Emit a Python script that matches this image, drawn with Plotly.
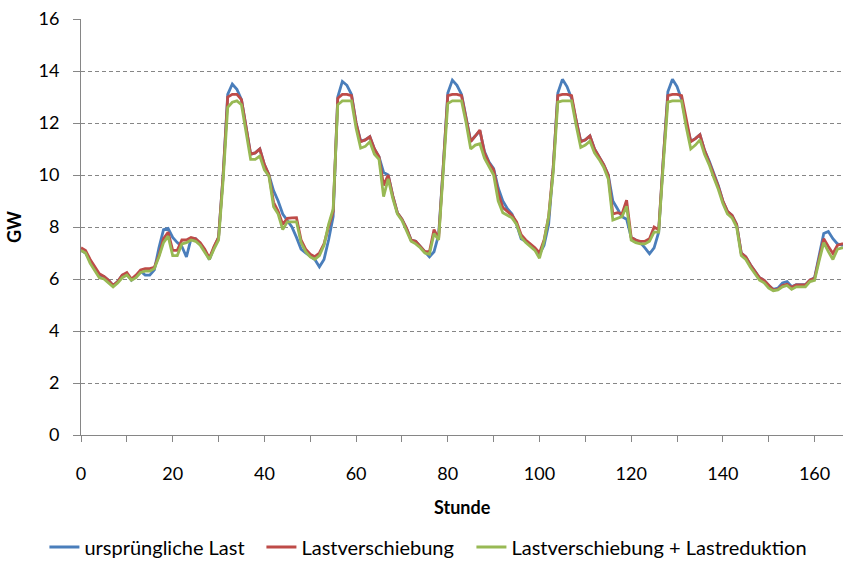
import plotly.graph_objects as go

hours = list(range(168))

urspruengliche_last = [
    7.1, 7.0, 6.7, 6.4, 6.15, 6.1, 5.95, 5.75, 5.9, 6.15, 6.2, 5.95, 6.1, 6.3, 6.15, 6.15, 6.35, 7.2, 7.9, 7.95,
    7.6, 7.4, 7.25, 6.85, 7.55, 7.55, 7.35, 7.1, 6.75, 7.2, 7.6, 10.0, 13.1, 13.5, 13.3, 12.9, 11.8, 10.8, 10.85, 11.0,
    10.4, 10.0, 9.4, 9.0, 8.5, 8.25, 8.0, 7.6, 7.15, 7.0, 6.88, 6.75, 6.47, 6.75, 7.5, 8.4, 13.0, 13.6, 13.45, 13.1,
    12.0, 11.3, 11.35, 11.47, 11.0, 10.7, 10.1, 10.0, 9.2, 8.55, 8.3, 7.95, 7.5, 7.45, 7.25, 7.05, 6.85, 7.05, 7.7, 10.3,
    13.15, 13.65, 13.45, 13.1, 12.2, 11.3, 11.5, 11.7, 10.9, 10.5, 10.25, 9.5, 9.0, 8.7, 8.5, 8.1, 7.55, 7.45, 7.3, 7.15,
    6.95, 7.3, 8.1, 10.3, 13.15, 13.68, 13.4, 12.95, 12.1, 11.3, 11.35, 11.5, 11.0, 10.7, 10.4, 10.0, 9.0, 8.7, 8.4, 8.3,
    7.6, 7.5, 7.4, 7.2, 6.97, 7.2, 7.8, 10.6, 13.2, 13.68, 13.4, 12.9, 12.0, 11.3, 11.4, 11.55, 10.95, 10.55, 10.05, 9.6,
    9.0, 8.6, 8.45, 8.1, 7.0, 6.85, 6.55, 6.3, 6.05, 5.95, 5.75, 5.6, 5.65, 5.85, 5.9, 5.7, 5.78, 5.78, 5.78, 5.96,
    6.05, 6.9, 7.75, 7.83, 7.55, 7.35, 7.3, 7.3,
]

lastverschiebung = [
    7.2, 7.1, 6.75, 6.45, 6.2, 6.1, 5.95, 5.75, 5.9, 6.15, 6.25, 6.0, 6.15, 6.35, 6.4, 6.4, 6.45, 6.9, 7.55, 7.8,
    7.1, 7.1, 7.5, 7.5, 7.6, 7.55, 7.4, 7.15, 6.8, 7.25, 7.6, 10.0, 13.0, 13.1, 13.1, 12.9, 11.8, 10.8, 10.85, 11.0,
    10.4, 10.0, 8.95, 8.6, 8.1, 8.33, 8.35, 8.36, 7.5, 7.15, 6.95, 6.86, 7.0, 7.35, 8.0, 8.6, 12.95, 13.1, 13.1, 13.05,
    12.0, 11.28, 11.35, 11.47, 11.0, 10.7, 9.6, 10.0, 9.2, 8.55, 8.3, 7.95, 7.5, 7.45, 7.25, 7.05, 7.05, 7.9, 7.55, 10.3,
    13.05, 13.1, 13.1, 13.05, 12.2, 11.28, 11.5, 11.73, 10.85, 10.45, 10.2, 9.3, 8.75, 8.6, 8.45, 8.2, 7.7, 7.5, 7.35, 7.2,
    7.0, 7.5, 8.4, 10.3, 13.05, 13.1, 13.1, 13.05, 12.1, 11.28, 11.35, 11.5, 11.0, 10.7, 10.4, 10.0, 8.5, 8.55, 8.5, 9.03,
    7.6, 7.5, 7.45, 7.45, 7.55, 8.0, 7.9, 10.6, 13.05, 13.1, 13.1, 13.05, 12.1, 11.28, 11.4, 11.55, 10.95, 10.5, 10.0, 9.56,
    9.0, 8.6, 8.45, 8.1, 7.0, 6.85, 6.55, 6.3, 6.05, 5.95, 5.75, 5.58, 5.6, 5.75, 5.8, 5.68, 5.77, 5.77, 5.77, 5.96,
    6.03, 6.8, 7.55, 7.25, 6.98, 7.3, 7.35, 7.35,
]

lastreduktion = [
    7.1, 7.0, 6.6, 6.35, 6.05, 6.0, 5.85, 5.7, 5.85, 6.05, 6.15, 5.95, 6.05, 6.25, 6.3, 6.3, 6.4, 6.85, 7.4, 7.65,
    6.9, 6.9, 7.35, 7.4, 7.5, 7.45, 7.3, 7.05, 6.75, 7.15, 7.5, 9.8, 12.6, 12.8, 12.85, 12.7, 11.6, 10.6, 10.6, 10.73,
    10.2, 9.95, 8.78, 8.5, 7.9, 8.2, 8.2, 8.2, 7.4, 7.05, 6.85, 6.76, 6.9, 7.3, 8.1, 8.7, 12.7, 12.85, 12.85, 12.85,
    11.8, 11.03, 11.1, 11.28, 10.8, 10.6, 9.17, 9.85, 9.1, 8.5, 8.25, 7.85, 7.45, 7.35, 7.2, 7.0, 6.95, 7.75, 7.5, 10.1,
    12.75, 12.85, 12.85, 12.85, 12.0, 11.0, 11.15, 11.2, 10.65, 10.35, 10.0, 9.0, 8.55, 8.45, 8.35, 8.1, 7.6, 7.4, 7.25, 7.1,
    6.8, 7.45, 8.4, 10.1, 12.8, 12.85, 12.85, 12.85, 11.9, 11.06, 11.15, 11.3, 10.85, 10.6, 10.3, 9.85, 8.27, 8.35, 8.4, 8.8,
    7.5, 7.4, 7.35, 7.35, 7.45, 7.8, 7.8, 10.4, 12.8, 12.85, 12.85, 12.85, 11.85, 11.0, 11.15, 11.35, 10.8, 10.4, 9.9, 9.45,
    8.9, 8.5, 8.35, 8.0, 6.9, 6.75, 6.45, 6.2, 5.95, 5.85, 5.65, 5.55, 5.58, 5.7, 5.75, 5.6, 5.7, 5.7, 5.7, 5.9,
    5.95, 6.7, 7.4, 7.05, 6.75, 7.15, 7.2, 7.2,
]

x_tickvals = list(range(0, 170, 10))
x_ticktext = [str(v) if v % 20 == 0 else "" for v in x_tickvals]
y_tickvals = list(range(0, 17, 2))

FONT = "Lato"
AXIS_GREY = "#868686"
FIG_W, FIG_H = 843, 580   # a little taller than the window so the legend never pushes the margins
PLOT_H = 416

fig = go.Figure()
fig.add_trace(go.Scatter(x=hours, y=urspruengliche_last, name="ursprüngliche Last",
                         mode="lines", line=dict(color="#4A7EBB", width=2.8), legendwidth=172))
fig.add_trace(go.Scatter(x=hours, y=lastverschiebung, name="Lastverschiebung",
                         mode="lines", line=dict(color="#BE4B48", width=2.8), legendwidth=165))
fig.add_trace(go.Scatter(x=hours, y=lastreduktion, name="Lastverschiebung + Lastreduktion",
                         mode="lines", line=dict(color="#98B954", width=2.8), legendwidth=320))

fig.update_layout(
    width=FIG_W, height=FIG_H,
    margin=dict(l=81, r=0, t=19, b=FIG_H - 19 - PLOT_H),
    paper_bgcolor="white", plot_bgcolor="white",
    font=dict(family=FONT, size=18, color="black"),
    showlegend=True,
    legend=dict(orientation="h", x=-0.048, xanchor="left", y=(435 - 547) / PLOT_H, yanchor="middle",
                font=dict(size=20), itemwidth=30, traceorder="normal"),
    xaxis=dict(range=[0, 166.2], tickmode="array", tickvals=x_tickvals, ticktext=x_ticktext,
               ticks="outside", ticklen=6, tickcolor=AXIS_GREY, showline=True, linecolor=AXIS_GREY,
               linewidth=1, showgrid=False, zeroline=False, ticklabelstandoff=16, automargin=False),
    yaxis=dict(range=[0, 16], tickmode="array", tickvals=y_tickvals,
               ticks="outside", ticklen=7, tickcolor=AXIS_GREY, showline=True, linecolor=AXIS_GREY,
               linewidth=1, showgrid=True, gridcolor=AXIS_GREY, griddash="4px,3px", gridwidth=1,
               zeroline=False, ticklabelstandoff=10, automargin=False),
    annotations=[
        dict(text="<b>Stunde</b>", xref="paper", yref="paper", x=0.5, y=(435 - 507) / PLOT_H,
             xanchor="center", yanchor="middle", showarrow=False, font=dict(size=18)),
        dict(text="<b>GW</b>", xref="paper", yref="paper", x=(14 - 81) / 762, y=0.5,
             xanchor="center", yanchor="middle", showarrow=False, textangle=-90, font=dict(size=18)),
    ],
)

# drop the default 8px body margin and any scrollbars so the figure sits at the window corner
fig.write_html("out.html", config={"displayModeBar": False},
               post_script="document.body.style.margin='0px';"
                           "document.body.style.overflow='hidden';"
                           "document.documentElement.style.overflow='hidden';")
